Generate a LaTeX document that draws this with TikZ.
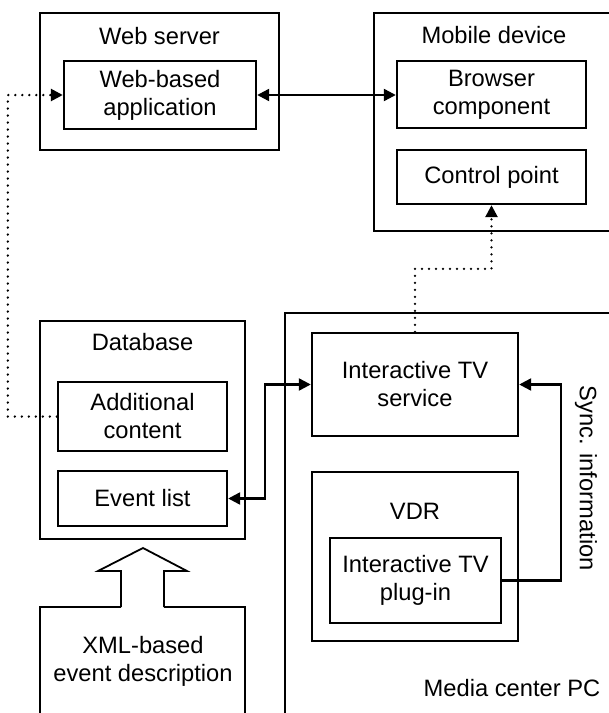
\documentclass[tikz,border=0pt]{standalone}
\usepackage{fontspec}
\setmainfont{Liberation Sans}
\usetikzlibrary{arrows.meta}
\newcommand\figfont{\fontsize{23.7}{28}\selectfont}

\begin{document}
\begin{tikzpicture}[x=1pt,y=-1pt,
  box/.style={draw, line width=2.4pt, inner sep=0pt, align=center, font=\figfont},
  lbl/.style={inner sep=0pt, align=center, font=\figfont},
  frame/.style={line width=2.4pt, line join=miter},
  tip/.style={-{Triangle[length=12pt,width=12pt]}},
  bothtips/.style={{Triangle[length=12pt,width=12pt]}-{Triangle[length=12pt,width=12pt]}},
  conn/.style={line width=2.3pt},
  dotconn/.style={line width=2.6pt, dash pattern=on 0pt off 7pt, line cap=round},
  blockarrow/.style={line width=1.8pt, line join=miter}]

\useasboundingbox (0,0) rectangle (609,713);
\clip (0,0) rectangle (609,713);

% Web server
\node[box, minimum width=239pt, minimum height=137pt] (websrv) at (159.5,81.5) {};
\node[lbl] (websrvT) at (159.5,36.5) {Web server};
\node[box, minimum width=192pt, minimum height=68pt] (webapp) at (160,95) {Web-based\\application};

% Mobile device (open to the right)
\draw[frame] (620,13) -- (374,13) -- (374,231) -- (620,231);
\node[lbl] (mobileT) at (494,35) {Mobile device};
\node[box, minimum width=189pt, minimum height=67pt] (browser) at (491.5,94.5) {Browser\\component};
\node[box, minimum width=189pt, minimum height=54pt] (ctrl) at (491.5,177) {Control point};

% Media center PC (open to the right and bottom)
\draw[frame] (285,720) -- (285,313) -- (620,313);
\node[box, minimum width=206pt, minimum height=103pt] (itv) at (415,384.5) {Interactive TV\\service};
\node[box, minimum width=206pt, minimum height=169pt] (vdr) at (415,556.5) {};
\node[lbl] (vdrT) at (415,511.5) {VDR};
\node[box, minimum width=171pt, minimum height=85pt] (plugin) at (415.5,580.5) {Interactive TV\\plug-in};
\node[lbl, rotate=-90] (syncT) at (586,478) {Sync. information};
\node[lbl] (mediaT) at (512,688) {Media center PC};

% Database
\node[box, minimum width=205pt, minimum height=218pt] (db) at (142.5,430) {};
\node[lbl] (dbT) at (142.5,341.7) {Database};
\node[box, minimum width=169pt, minimum height=69pt] (addcont) at (142.5,416.5) {Additional\\content};
\node[box, minimum width=169pt, minimum height=55pt] (evlist) at (142.5,498.5) {Event list};

% XML source with block arrow into the database
\node[lbl] (xml) at (143,661.5) {XML-based\\event description};
\draw[frame] (40,720) -- (40,607) -- (121,607);
\draw[frame] (164,607) -- (245,607) -- (245,720);
\draw[blockarrow] (121,607) -- (121,571) -- (98,571) -- (143,548)
  -- (187,571) -- (164,571) -- (164,607);

% Connectors
\draw[conn, bothtips] (webapp.east) -- (browser.west |- webapp.east);
\draw[dotconn, tip] (addcont.west) -- ++(-49,0) |- (webapp.west);
\draw[dotconn, tip] (itv.north) -- ++(0,-63) -| (ctrl.south);
\draw[conn, bothtips] (evlist.east) -- ++(37,0) |- (itv.west);
\draw[conn, tip] (plugin.east) -- ++(59,0) |- (itv.east);
\end{tikzpicture}
\end{document}
